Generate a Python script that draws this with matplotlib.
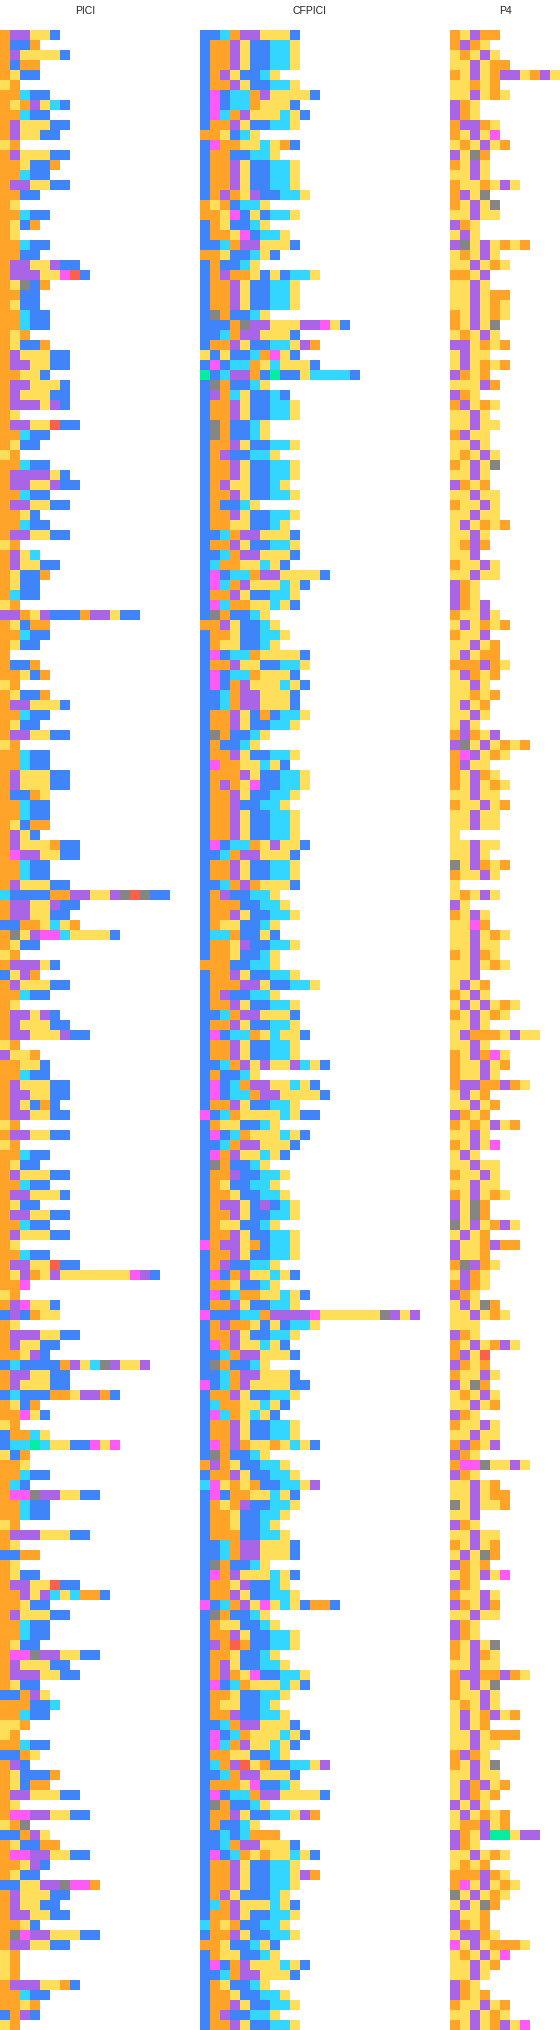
import numpy as np
import matplotlib
matplotlib.use("Agg")
import matplotlib.pyplot as plt
from matplotlib.colors import ListedColormap

# one string per row, one letter per cell
PICI = [
    "OPPYYB", "OBBO", "OPYYYYB", "OBOO", "OYBB", "YO", "OOCBB", "OYOPYCB", "OOCBB", "OPYYYBB",
    "OPYYBB", "YO", "OPYYYBB", "OOYBBO", "OOCBB", "OPPYYBB", "OOBB", "OY", "OOCBB", "OYBO",
    "OY", "OOCBB", "OOBB", "OPPYYPBB", "OPPPYYMRB", "OYGBO", "OOBB", "OYBB", "OOCBB", "OOCBB",
    "OYO", "OYBBO", "OPYYYBB", "OPPYYBB", "OOYYB", "OPPYYYB", "OPYYYBB", "OPPPYPB", "OY", "OPPYYRBB",
    "OOCBB", "OYBB", "YO", "OOCBB", "OPPPPYB", "OPPYYPBB", "OOCBB", "OPPYYBB", "OOYB", "OOCBB",
    "OPPYYBB", "YO", "OPYC", "OPYYBB", "OYBBO", "OYBB", "OCBB", "YO", "PPOYPBBBOPPYBB", "OYBOO",
    "OOCBB", "OYBB", "O", "OBBO", "OOYBO", "YO", "OYBBO", "OPPYYYB", "OOCBB", "OYBB",
    "OPPYYBB", "YO", "OOCBB", "OOCBB", "OPYYYBB", "OPYYYBB", "OBBOY", "OOCBB", "OOCBB", "OYBOO",
    "OPYB", "OPYYYOBB", "OMPPYYBB", "OOCBB", "OOCBB", "OPYYYBB", "CBBBBOOPPYYPGRGBB", "OPPYYPBB", "OPPYYBB", "BBOOYCYO",
    "OGYPMMCYYYYB", "OYBB", "YO", "OPPPYB", "BYPO", "OPYYYBB", "OOCBB", "OY", "OPPYPB", "OPYYYBB",
    "OPPYYYPBB", "YO", "PYYO", "OOYYB", "OOCBB", "OPYYYBB", "OPPYYBB", "OPYBOB", "OPPYYBB", "YO",
    "OPPYYBB", "YO", "OOCBB", "OYBB", "OPYYYBB", "OOCBB", "OPPYYYB", "OYBB", "OPPYYBB", "OOCBB",
    "OPYYYBB", "OY", "OOCBB", "OPPYYRBB", "OYPOYPYYYYYYYMPB", "OOM", "YO", "OPMYYB", "BPBOYY", "OY",
    "OPPPYYBB", "OPYYBB", "OOYPB", "BCBBBBOPYCGPYYP", "OPPYYBB", "OPYYYBB", "BCBBBOOYPPOB", "OYBO", "OOMYB", "YO",
    "BOOCY", "BCCTCYYBBMYM", "YBO", "OOY", "OOCBB", "OCB", "OMMGPPYYBB", "OOCBB", "OOCBB", "YO",
    "OPPPYYYBB", "OY", "BBOO", "OY", "OYBB", "OPPYYRBB", "OOPYPCYCOOB", "OOYBB", "OPYYYBB", "OOCBB",
    "OOCBB", "OYBB", "OMMGPPYYBB", "OPYYYBB", "OPPPYYBB", "OYBB", "BBOPY", "OOOBBC", "OOCBB", "YYO",
    "YO", "OOCBB", "BBOY", "OPB", "OYBBBO", "OYBOO", "OPPYYYBB", "OY", "OMMPPYYBB", "YOG",
    "BBOPY", "OYBBOO", "OMMPPYYBB", "OOYPB", "OYBB", "BBYYPPGMMO", "OPYYYBB", "OPYYBB", "OPPYYBB", "OOYB",
    "OGMPPYYYBB", "OPPYYBB", "YO", "YO", "YO", "OPPPYYOB", "OOCBB", "OOYO", "BOPB", "YO",
]

CFPICI = [
    "BBCOPPYYYB", "BOOPYBBCCY", "BOOPYBBCCY", "BOOPYBBCCY", "BOPYBBCY", "BOOPYBBCCY", "BMBCCOPYYYYB", "BMBCCOYYYB", "BMCOPYYYCYB", "BOOPYBBCCY",
    "OOYBCY", "BMOOYYCYOB", "BOOBBCCY", "BOOPYBBCCY", "BOOPYBBCCY", "BOOPYBBCCY", "BOPOYPBBCCY", "OYOBCCY", "OOYMBYBCCY", "BOYBBCY",
    "BOOYMBCCY", "BBCOPPYYYB", "OOYBBCYB", "BOBBCY", "BOPOOYBYBCCY", "BOOPYBBCCY", "BOOPYBBCCY", "BOOPYBBCCY", "BGOBBCY", "BBBOGPPYYYPPMYB",
    "BBCOPPYYYB", "BOOPYBBCCYPO", "YBYBBCOMYB", "BMBCCOYCYYYB", "TBCPPOBTBBYCCCCB", "BGOBBCY", "BPOCYBBCB", "BOOPYBBCCY", "BOOPYBBCCY", "BGOBBCY",
    "BGOBBCY", "BOOPYBBCCY", "BOPBBCCY", "BOOPYBBCCY", "BOOPYBBCCY", "BOPYYBBCY", "BOOPYBBCCY", "BOBBCY", "BOOPYBBCCY", "BOOYYBBCY",
    "BBCOPPYYYB", "BOOPYBBCCY", "BBCOPPYYYB", "BCOOYYCYB", "BMBCCOPPYYYYB", "BMCOPYYYCYB", "BOOPYBBCCY", "BMCOOYYCYB", "BGOBBCY", "OOPYBBCY",
    "BOOYBBCCY", "BOYYBBCY", "BMBCCOYYYYB", "BOOPYYBBCCY", "BMBCCOYYYB", "BMBOPYYYCYB", "BBCOPPYYYB", "BBCOPPYYYB", "BOOPYBOBCCY", "BOOPYBBCCY",
    "BGOBBCY", "BOBBCY", "BOOPYBBCCY", "BMOOYYCYB", "BOOOPYBBCCY", "BOPOYMBBCCY", "BOOPYBBCCY", "BOOPBBCCY", "BOOPYBBCCY", "BOOPYBBCCY",
    "BOOPYBBCCY", "BMBCCOYPYYB", "BBCOPPYYYB", "BOOPYBBCCY", "BOOPYBBCCY", "BBCOPOYYYB", "BOPBBCCY", "BOOOBBCCY", "BOOPYBBCCY", "BOYYBBCY",
    "BCCOBBYB", "BOOYPBBCCY", "BOOYBBCY", "OOOBBCCY", "BOOPYBBCCY", "BOOOPPYBBCCY", "BOPBBCCY", "BOOPYBBCCY", "BBCOPPYYYB", "BOOPYBBCCY",
    "BMBCCOYCYYB", "BOOPYBBCCY", "BOOPYBBCCY", "BBCOPYPYYPCYB", "BOBBCY", "BMBCOPPYYCYB", "BMBCCOPPYYYYB", "BOOPYBBCCY", "MBCOYYYYCYBB", "BOYYBBCY",
    "BMBCOYYYCYB", "BBCOPPYYYB", "BMOPYYCYB", "BGOBBCY", "BOOPBBCCY", "BOYBBCCY", "BOOYBBCCY", "BOPPYBPBCY", "BOOPYBBCCY", "BOYYBBCY",
    "BOOPYBBCCY", "MOPPYOBCCY", "BOOPYBBCCY", "BOPBBCCY", "BMBOPYYCYB", "BOOYBBCY", "BMBCOOYYCYB", "BOOPYBBCCY", "MBBBCCOPPPPMYYYYYYGPYP", "BOPOOYBYBCCY",
    "BOOPYBBCCY", "BMOPYYCYB", "BBCOPPYYYB", "BGOBBCY", "BBCOPPYYYB", "MBCOPYYYYBB", "BOOPYBBCCY", "BCOOYYCYB", "BMCOYCYB", "BOOPYBBCCY",
    "BOOPYBBCCY", "BMOPOYYOYCYB", "BGOBBCY", "OPOYBBCCY", "BOOPYBBCCY", "CMYOYOBBCCYP", "BMBOOYYCYB", "BOYOPBBCCY", "BOOYBBCCY", "BOOYBBCY",
    "BOOOBBCCY", "BBCOPPYYYB", "BBCOPPYYYB", "BGOBBCY", "BMOPYYYCYB", "BOOYPBBCY", "BOOPYBBCCY", "MBCOPYMYCYBOOB", "BGOBBCY", "BOYYBBCY",
    "BOOPYBBCCY", "BPOROBBCCY", "BOOYBBCY", "BOPYBBCCY", "BOPOYMBBCCY", "BMBCOYYYCYB", "BOOYBBCCY", "BOYYBBCY", "BOOPBBCCY", "BBCOPPYYYB",
    "BMBCOYYYCYB", "BMCOPYYCYB", "BOOYYBBCY", "BCOPRYOBBCCYP", "BBCOPPYYYB", "BOOOYMBBCY", "BMBCCOPPYYYYB", "BGOBBCY", "BOOPYBBCCYPO", "BOBBCY",
    "BBCBCOOO", "BBCOPPYYYB", "BMBCOYOYYCYB", "BOOPYBBCCY", "BOOPYBBCCYPO", "BOOPYBBCCY", "BOPYBBBCY", "BCOPYYYCYB", "BOOPYBBCCY", "COYOBBCCY",
    "BOOPYBBCCY", "OOYBBCYB", "BOYYBBCY", "BMBOPYYYCYB", "BBCOPPYYYB", "BOYBBCY", "BOOYBBCCY", "BOOPYBBCCY", "BOPBBCCY", "BOOPYBBCCY",
]

P4 = [
    "OYPOO", "OPOY", "YOYPY", "YYPYOO", "OYPYOPPYOPY", "YYOYO", "YYPYOY", "POY", "POY", "OPPOY",
    "OYPYM", "YOYPYO", "PYGO", "OYPY", "YYPY", "OYYOYPY", "OPYG", "OYPYG", "YYPYY", "POY",
    "YPY", "PGYPYOYO", "YOYPY", "YYPYOY", "OOYP", "YYPY", "YYPYOO", "YYPYOY", "OYPYOY", "OYPYG",
    "YOYPY", "PPYOYO", "YPYY", "YPYOYO", "POYO", "YYYPO", "POY", "OPYOY", "YYPY", "YYPYY",
    "OPYY", "YYPY", "YOYPY", "OYPYG", "YYPY", "POYO", "YYPYY", "OYYPY", "YYPYY", "YPYOYO",
    "YYPY", "YOPO", "YYP", "OYYPY", "YYPYY", "POY", "POY", "POYP", "OYYPY", "YPYOYO",
    "OYYP", "YYPYO", "YPYOO", "OOOPOY", "YPOYO", "YYPY", "YYOYO", "YPYO", "YYPY", "YPY",
    "OPOYP", "PGYPYOYO", "OMPYOY", "OPYY", "OYPOY", "OYPYOY", "YYPYY", "OYYPYO", "YYPYY", "YYPYY",
    "Y", "YYPYY", "YYPY", "GYPOYO", "OYYPY", "Y", "YOYPY", "PY", "OYPY", "YYMO",
    "YYPYOY", "YYPYY", "OYPOY", "YYPYOY", "YYP", "YPYO", "OYPY", "YPYPYOY", "OYPYOY", "YYPY",
    "YPOOOYPYY", "YYPY", "OYPOMY", "OYYPYO", "OYYPY", "OPPOOPOY", "YPYO", "YYPYO", "POYO", "OYOYPYO",
    "YYPY", "OYPYM", "YPY", "YYPYY", "OYYPY", "YYPYY", "OYPYOY", "PYGO", "PYGO", "GYPYOPY",
    "YPYO", "PYYOPOO", "PYYO", "OGPOY", "YPOY", "OPOY", "POY", "YPYGO", "YYPYOY", "YYY",
    "POY", "OYPYOPY", "OPYR", "POYO", "OYYPY", "PYGO", "YOYPY", "YYPYO", "POY", "OYYPY",
    "YYPYY", "OPOYP", "POY", "OMMGYYPY", "POY", "YYPYO", "YYPYOO", "GYPYYO", "YYP", "POY",
    "YYPYY", "OYPYO", "YPYGO", "POYO", "YOYPYM", "POY", "OYYPY", "POYPO", "YYPYY", "POY",
    "POY", "OYPYG", "OYPOY", "YYPYY", "OPPOOPOY", "OYPYG", "OYYPY", "YOYPY", "YPYOPYO", "YPYO",
    "YYPYOOO", "YYPYY", "OPOY", "OYPYG", "YYPYY", "YPOPYO", "YPOYO", "PYPY", "YPYOYO", "YOOPYO",
    "POYPTTYPP", "POY", "YYPYOY", "YOYO", "OOOPOY", "OMYPYOY", "GYPYOY", "YPYGO", "PYYO", "POYO",
    "YPPOY", "MYPYOOOY", "YOYPYM", "YYPYO", "YYPY", "POY", "POYO", "OYYPYO", "YYPYOY", "OYPYOPYM",
]

PANEL_NAMES = ["PICI", "CFPICI", "P4"]
PANEL_ROWS = [PICI, CFPICI, P4]
PANEL_COLS = [20, 25, 11]

LETTERS = "OYPBCMGTR"
COLORS = ["#FFA329", "#FFDE59", "#A965E5", "#3F84F8", "#33D6FF",
          "#FF5AF5", "#858585", "#05EDA0", "#FA604C"]


def to_grid(rows, n_cols):
    """Turn the row strings into a masked array of colour indices."""
    grid = np.full((len(rows), n_cols), -1)
    for i, row in enumerate(rows):
        for j, letter in enumerate(row):
            grid[i, j] = LETTERS.index(letter)
    return np.ma.masked_less(grid, 0)


cmap = ListedColormap(COLORS)
cmap.set_bad("white")

plt.rcParams["font.family"] = ["Liberation Sans", "DejaVu Sans"]

fig, axes = plt.subplots(
    1, 3, figsize=(5.6, 20.3), dpi=100,
    gridspec_kw={"width_ratios": PANEL_COLS, "wspace": 0},
)
fig.subplots_adjust(left=0, right=1, bottom=0, top=2000 / 2030)

for ax, name, rows, n_cols in zip(axes, PANEL_NAMES, PANEL_ROWS, PANEL_COLS):
    ax.imshow(to_grid(rows, n_cols), cmap=cmap, vmin=0, vmax=len(COLORS) - 1,
              aspect="auto", interpolation="nearest",
              extent=(0, n_cols, len(rows), 0))
    ax.axis("off")
    # title sits over the middle of the longest row
    ax.text(max(len(r) for r in rows) / 2, -1.87, name, ha="center", va="center",
            fontsize=7.5, color="#222222", clip_on=False)

fig.savefig("out.png", dpi=100)
plt.close(fig)
print([len(r) for r in PANEL_ROWS])
